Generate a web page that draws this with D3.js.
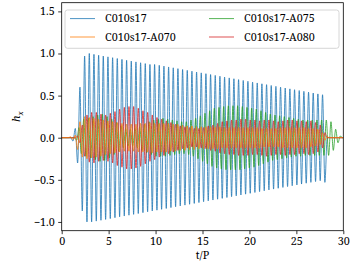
<!DOCTYPE html>
<html><head><meta charset="utf-8">
<script src="https://cdn.jsdelivr.net/npm/d3@7"></script>
<style>body{margin:0;background:#fff} svg{display:block} text{font-family:"Noto Serif","DejaVu Serif",serif;fill:#000}</style>
</head><body><svg id="c" width="354" height="266"></svg>
<script>
// ---- data ----
const seriesNames = ["C010s17", "C010s17-A070", "C010s17-A075", "C010s17-A080"];
const seriesColors = ["#1f77b4", "#ff7f0e", "#2ca02c", "#d62728"];
const halfPeriod = 0.2485;                 // spacing of successive extrema (t/P)
const startTimes = [1.20, 0.95, 1.60, 1.70]; // time of first extremum
const startSigns = [-1, 1, -1, 1];
const drawOrder = [0, 2, 3, 1];
// successive extremum magnitudes (alternating sign)
const ampC010s17 = [0.04,0.11,0.30,0.60,0.87,0.97,1.00,1.00,1.00,
0.99,0.99,0.98,0.98,0.97,0.97,0.96,0.96,0.95,0.95,
0.94,0.94,0.93,0.93,0.92,0.92,0.91,0.91,0.90,0.90,
0.89,0.89,0.88,0.88,0.87,0.87,0.87,0.86,0.86,0.85,
0.85,0.84,0.84,0.83,0.83,0.82,0.82,0.81,0.81,0.80,
0.80,0.79,0.79,0.78,0.78,0.77,0.77,0.76,0.76,0.75,
0.75,0.74,0.74,0.73,0.73,0.72,0.72,0.71,0.71,0.70,
0.70,0.69,0.69,0.68,0.68,0.67,0.67,0.66,0.66,0.65,
0.65,0.64,0.64,0.63,0.63,0.62,0.62,0.61,0.61,0.60,
0.60,0.59,0.59,0.58,0.58,0.57,0.57,0.56,0.56,0.55,
0.55,0.54,0.54,0.53,0.53,0.52,0.52,0.51,0.51,0.53];
const ampA070 = [0.01,0.02,0.03,0.14,0.19,0.23,0.25,0.25,0.24,0.24,
0.23,0.23,0.22,0.22,0.21,0.20,0.20,0.19,0.19,0.18,
0.18,0.17,0.17,0.16,0.16,0.16,0.16,0.16,0.16,0.17,
0.17,0.17,0.17,0.17,0.18,0.18,0.17,0.17,0.17,0.17,
0.17,0.17,0.17,0.16,0.16,0.16,0.16,0.15,0.15,0.15,
0.14,0.14,0.14,0.14,0.13,0.13,0.13,0.13,0.13,0.13,
0.13,0.13,0.13,0.13,0.13,0.12,0.12,0.12,0.12,0.12,
0.12,0.12,0.12,0.12,0.12,0.12,0.12,0.12,0.12,0.12,
0.12,0.12,0.11,0.11,0.11,0.11,0.11,0.11,0.11,0.11,
0.12,0.12,0.12,0.12,0.12,0.12,0.12,0.12,0.12,0.12,
0.12,0.12,0.11,0.11,0.11,0.10,0.10,0.08,0.06,0.03,0.01];
const ampA075 = [0.03,0.12,0.19,0.22,0.22,0.23,0.24,0.25,0.26,0.27,
0.28,0.28,0.27,0.25,0.24,0.22,0.20,0.18,0.16,0.14,
0.12,0.11,0.10,0.10,0.10,0.11,0.12,0.13,0.15,0.16,
0.18,0.19,0.20,0.21,0.22,0.22,0.22,0.23,0.22,0.22,
0.21,0.21,0.20,0.20,0.19,0.19,0.19,0.19,0.20,0.21,
0.22,0.23,0.25,0.26,0.28,0.29,0.31,0.32,0.34,0.35,
0.36,0.36,0.37,0.37,0.38,0.38,0.38,0.38,0.38,0.38,
0.38,0.37,0.37,0.36,0.36,0.35,0.35,0.34,0.33,0.32,
0.31,0.30,0.29,0.28,0.27,0.27,0.26,0.26,0.25,0.25,
0.24,0.24,0.23,0.23,0.22,0.22,0.22,0.21,0.21,0.21,
0.21,0.21,0.21,0.21,0.21,0.21,0.21,0.21,0.21,0.19,
0.15,0.10,0.06,0.02];
const ampA080 = [0.02,0.06,0.15,0.22,0.27,0.29,0.30,0.30,0.30,0.28,
0.28,0.27,0.27,0.28,0.29,0.30,0.31,0.33,0.34,0.35,
0.36,0.37,0.37,0.37,0.37,0.36,0.35,0.34,0.32,0.31,
0.30,0.28,0.27,0.26,0.24,0.23,0.22,0.21,0.20,0.19,
0.18,0.17,0.16,0.15,0.14,0.13,0.13,0.12,0.12,0.11,
0.11,0.11,0.11,0.12,0.12,0.13,0.14,0.15,0.15,0.16,
0.17,0.18,0.19,0.19,0.20,
0.20,0.21,0.20,0.21,0.21,0.22,0.21,0.22,0.21,0.21,
0.20,0.21,0.20,0.20,0.21,0.21,0.22,0.21,0.21,0.20,
0.20,0.19,0.20,0.20,0.21,0.21,0.20,0.21,0.20,0.20,
0.19,0.20,0.19,0.19,0.20,0.20,0.19,0.18,0.17,0.15,
0.12,0.06];
const seriesAmps = [ampC010s17, ampA070, ampA075, ampA080];
const xTicks = [0, 5, 10, 15, 20, 25, 30];
const yTicks = [-1.0, -0.5, 0.0, 0.5, 1.0, 1.5];
const xDomain = [0, 30];
const yDomain = [-1.104, 1.603];

// ---- drawing ----
const FONT = "Noto Serif";
const FS = 10.8;
const svg = d3.select("#c");
const L = 61.7, R = 343.3, T = 2.7, B = 230.7;
const x = d3.scaleLinear().domain(xDomain).range([L, R]);
const y = d3.scaleLinear().domain(yDomain).range([B, T]);

svg.append("defs").append("clipPath").attr("id", "clip")
  .append("rect").attr("x", L).attr("y", T).attr("width", R - L).attr("height", B - T);

const line = d3.line().x(d => x(d[0])).y(d => y(d[1])).curve(d3.curveMonotoneX);
const g = svg.append("g").attr("clip-path", "url(#clip)");
drawOrder.forEach(k => {
  const amps = seriesAmps[k];
  const pts = [[xDomain[0], 0], [startTimes[k] - halfPeriod, 0]];
  amps.forEach((a, i) => {
    const s = (i % 2 === 0 ? 1 : -1) * startSigns[k];
    pts.push([startTimes[k] + i * halfPeriod, s * a]);
  });
  const tEnd = startTimes[k] + amps.length * halfPeriod;
  pts.push([tEnd, 0], [xDomain[1], 0]);
  g.append("path").datum(pts).attr("d", line)
    .attr("fill", "none").attr("stroke", seriesColors[k])
    .attr("stroke-width", 1).attr("stroke-opacity", 0.8);
});

// axes
const fmt = d => (d < 0 ? "\u2212" : "") + Math.abs(d).toFixed(1);
const xAxis = d3.axisBottom(x).tickValues(xTicks).tickFormat(d3.format("d")).tickSizeOuter(0).tickSize(3.5).tickPadding(3.5);
const yAxis = d3.axisLeft(y).tickValues(yTicks).tickFormat(fmt).tickSizeOuter(0).tickSize(3.5).tickPadding(3.5);
const gx = svg.append("g").attr("transform", `translate(0,${B})`).call(xAxis);
const gy = svg.append("g").attr("transform", `translate(${L},0)`).call(yAxis);
[gx, gy].forEach(a => {
  a.select(".domain").remove();
  a.selectAll("line").attr("stroke", "#000").attr("stroke-width", 0.8);
  a.selectAll("text").attr("font-family", FONT).attr("font-size", FS).attr("fill", "#000");
});
svg.append("rect").attr("x", L).attr("y", T).attr("width", R - L).attr("height", B - T)
  .attr("fill", "none").attr("stroke", "#000").attr("stroke-width", 0.8);

// labels
svg.append("text").attr("x", (L + R) / 2).attr("y", 259).attr("text-anchor", "middle")
  .attr("font-family", FONT).attr("font-size", FS).text("t/P");
const yl = svg.append("text").attr("transform", `translate(20,${(T + B) / 2}) rotate(-90)`)
  .attr("text-anchor", "middle").attr("font-family", FONT).attr("font-size", FS);
yl.append("tspan").attr("font-style", "italic").text("h");
yl.append("tspan").attr("font-style", "italic").attr("font-size", 7.6).attr("dy", 2.5).text("x");

// legend
const lg = svg.append("g");
lg.append("rect").attr("x", 65).attr("y", 10).attr("width", 274).attr("height", 38.3)
  .attr("rx", 2.5).attr("fill", "#fff").attr("fill-opacity", 0.8).attr("stroke", "#ccc").attr("stroke-width", 0.8);
const legPos = [[70, 18.6], [70, 37], [209, 18.6], [209, 37]];
seriesNames.forEach((n, k) => {
  const [lx, ly] = legPos[k];
  lg.append("line").attr("x1", lx).attr("x2", lx + 25).attr("y1", ly).attr("y2", ly)
    .attr("stroke", seriesColors[k]).attr("stroke-width", 1).attr("stroke-opacity", 0.8);
  lg.append("text").attr("x", lx + 35).attr("y", ly).attr("dy", "0.36em")
    .attr("font-family", FONT).attr("font-size", FS).text(n);
});
</script></body></html>
